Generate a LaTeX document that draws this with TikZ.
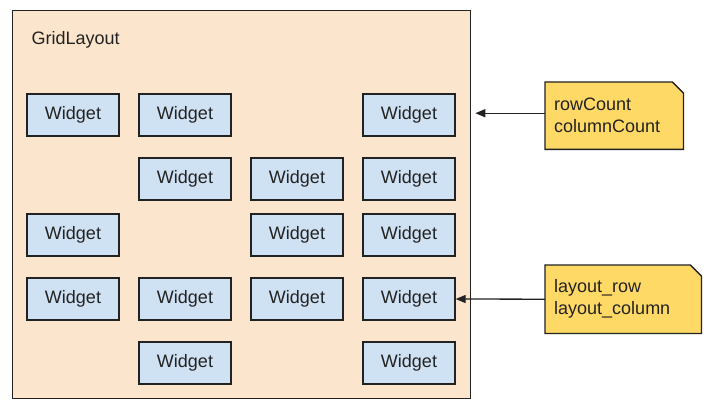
\documentclass[tikz,border=0pt]{standalone}
\usepackage{fontspec}
\setmainfont{Liberation Sans}
\usetikzlibrary{arrows.meta,backgrounds}

\definecolor{layoutfill}{HTML}{FCE5CD}
\definecolor{widgetfill}{HTML}{CFE2F3}
\definecolor{notefill}{HTML}{FFD966}
\definecolor{inkgray}{HTML}{222222}

\begin{document}
\begin{tikzpicture}[x=1pt, y=-1pt,
  font=\fontsize{18}{22}\selectfont, text=inkgray,
  layout/.style={draw=inkgray, fill=layoutfill, line width=1.3pt, anchor=north west,
    minimum width=458pt, minimum height=388pt, inner sep=0pt},
  widget/.style={draw=inkgray, fill=widgetfill, line width=1.3pt,
    minimum width=92pt, minimum height=42pt, inner sep=0pt},
  note/.style={anchor=north west, align=left, inner xsep=9pt, inner ysep=0pt},
  notefold/.style={draw=inkgray, fill=notefill, line width=1.3pt},
  pointer/.style={draw=inkgray, line width=1.3pt, -{Triangle[length=10pt,width=8pt]}}]
  %
  \useasboundingbox (0,0) rectangle (712,409);
  %
  \node[layout] (grid) at (12,10) {};
  \node[anchor=base west] (title) at (28,45) {GridLayout};
  %
  \foreach \y/\cols [count=\r] in {115/{1,2,4}, 179/{2,3,4}, 235/{1,3,4}, 299/{1,2,3,4}, 363/{2,4}}
    \foreach \c in \cols
      \node[widget] (w-\r-\c) at ({73+112*(\c-1)},\y) {Widget};
  %
  \node[note, text width=120pt, minimum height=67pt] (rows) at (545,82) {rowCount\\columnCount};
  \node[note, text width=138pt, minimum height=68pt] (cells) at (545,265) {layout\_row\\layout\_column};
  %
  \begin{scope}[on background layer]
    \foreach \n in {rows,cells}
      \draw[notefold] (\n.south west) -- (\n.north west) -- ([xshift=-11pt]\n.north east)
        -- ([yshift=-11pt]\n.north east) -- (\n.south east) -- cycle;
  \end{scope}
  %
  \draw[pointer] ([yshift=2.5pt]rows.west) -- ([xshift=4pt,yshift=2.5pt]grid.east |- rows.west);
  \draw[pointer] (cells.west) -- (w-4-4.east);
  %
\end{tikzpicture}
\end{document}
